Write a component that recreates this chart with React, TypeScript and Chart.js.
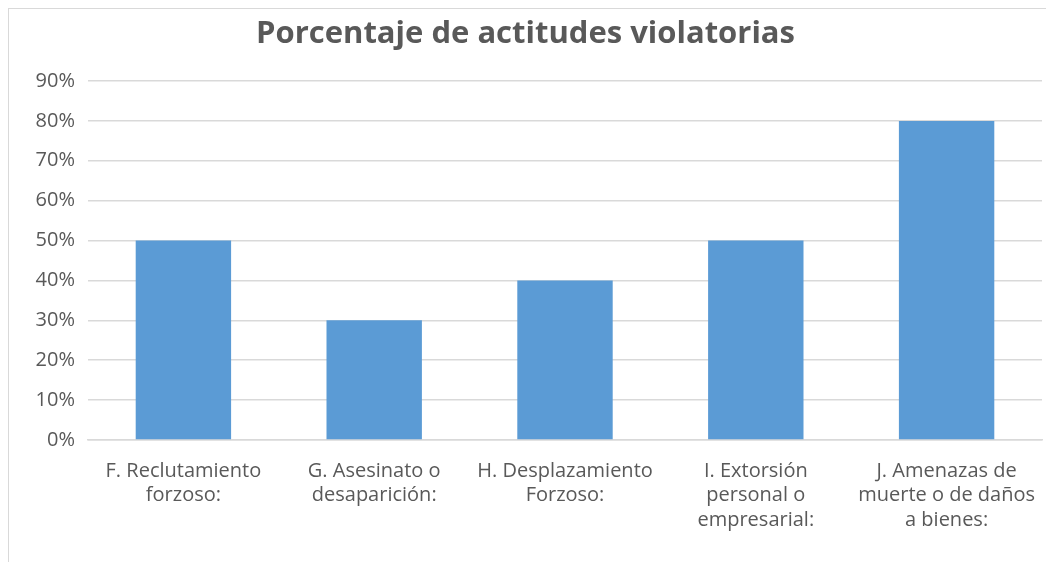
import React, { useEffect, useRef } from "react";
import { Chart, registerables } from "chart.js";

Chart.register(...registerables);

const TITLE = "Porcentaje de actitudes violatorias";
const categories: string[][] = [
  ["F. Reclutamiento", "forzoso:"],
  ["G. Asesinato o", "desaparición:"],
  ["H. Desplazamiento", "Forzoso:"],
  ["I. Extorsión", "personal o", "empresarial:"],
  ["J. Amenazas de", "muerte o de daños", "a bienes:"],
];
const values: number[] = [50, 30, 40, 50, 80];
const yTicks = { min: 0, max: 90, step: 10 };

export default function App() {
  const ref = useRef<HTMLCanvasElement | null>(null);
  useEffect(() => {
    if (!ref.current) return;
    const chart = new Chart(ref.current, {
      type: "bar",
      data: {
        labels: categories,
        datasets: [
          {
            data: values,
            backgroundColor: "#5B9BD5",
            barPercentage: 0.5,
            categoryPercentage: 1,
          },
        ],
      },
      options: {
        animation: false,
        responsive: false,
        layout: { padding: { top: 7, right: 12, left: 0, bottom: 0 } },
        plugins: {
          legend: { display: false },
          tooltip: { enabled: false },
          title: {
            display: true,
            text: TITLE,
            color: "#595959",
            font: { family: "Open Sans", size: 31, weight: "bold", lineHeight: 1.2 },
            padding: { top: 0, bottom: 27.8 },
          },
        },
        scales: {
          x: {
            grid: { display: false },
            border: { color: "#d9d9d9", width: 1.5 },
            ticks: {
              color: "#595959",
              font: { family: "Open Sans", size: 20, lineHeight: 1.22 },
              maxRotation: 0,
              autoSkip: false,
              padding: 11,
            },
            afterFit: (s: any) => {
              s.height = 122;
            },
          },
          y: {
            min: yTicks.min,
            max: yTicks.max,
            border: { display: false },
            grid: { color: "#d9d9d9", lineWidth: 1.5, drawTicks: false },
            ticks: {
              stepSize: yTicks.step,
              color: "#595959",
              font: { family: "Open Sans", size: 20 },
              padding: 13,
              callback: (v: any) => v + "%",
            },
            afterFit: (s: any) => {
              s.width = 79;
            },
          },
        },
      },
    });
    return () => chart.destroy();
  }, []);
  return (
    <div
      style={{
        width: 1045,
        height: 553,
        borderTop: "1px solid #d9d9d9",
        borderLeft: "1px solid #d9d9d9",
        background: "#fff",
      }}
    >
      <canvas ref={ref} width={1045} height={553} style={{ display: "block" }} />
    </div>
  );
}
